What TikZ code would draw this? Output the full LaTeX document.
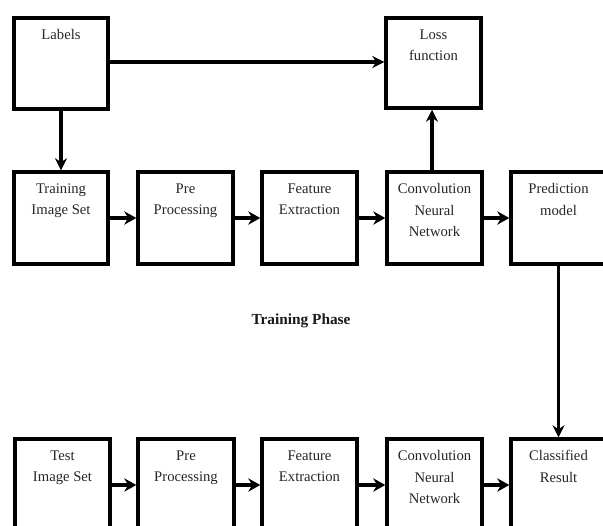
\documentclass[tikz,border=0pt]{standalone}
\usepackage{fontspec}
\setmainfont{Liberation Serif}
\usetikzlibrary{arrows.meta}
\tikzset{
  box/.style={draw=black, line width=2.6pt, minimum width=#1*0.75pt, minimum height=92*0.75pt, inner sep=0pt},
  box/.default=95,
  lbl/.style={anchor=north, align=center, inner sep=0pt, text=black!85, font=\fontsize{11}{16}\selectfont},
  conn/.style={line width=2.5pt, -{Stealth[length=9pt,width=9pt]}},
  rowconn/.style={line width=3.4pt, -{Stealth[length=9pt,width=10pt]}},
}
\begin{document}
\begin{tikzpicture}[x=0.75pt,y=-0.75pt]
\useasboundingbox (0,0) rectangle (603,525);
\fill[white] (0,0) rectangle (603,525);
\begin{scope}
\clip (0,0) rectangle (603,525);
% top row
\node[box=94, minimum height=91*0.75pt] (labels) at (61,63.5) {};
\node[box=95, minimum height=90*0.75pt] (loss) at (433.5,63) {};
% row 1
\node[box=94] (train) at (61,218) {};
\node[box=95] (pre1) at (185.5,218) {};
\node[box=95] (feat1) at (309.5,218) {};
\node[box=95] (cnn1) at (434.5,218) {};
\node[box=95] (pred) at (558.5,218) {};
% row 2
\node[box=95] (test) at (62.5,485) {};
\node[box=96] (pre2) at (186,485) {};
\node[box=95] (feat2) at (309.5,485) {};
\node[box=95] (cnn2) at (434.5,485) {};
\node[box=95] (cls) at (558.5,485) {};
% texts
\node[lbl] (tl) at ([yshift=-13*0.75pt]labels.north) {Labels};
\node[lbl] (tloss) at ([yshift=-13*0.75pt]loss.north) {Loss\\function};
\node[lbl] (ttrain) at ([yshift=-13*0.75pt]train.north) {Training\\Image Set};
\node[lbl] (tpre1) at ([yshift=-13*0.75pt]pre1.north) {Pre\\Processing};
\node[lbl] (tfeat1) at ([yshift=-13*0.75pt]feat1.north) {Feature\\Extraction};
\node[lbl] (tcnn1) at ([yshift=-13*0.75pt]cnn1.north) {Convolution\\Neural\\Network};
\node[lbl] (tpred) at ([yshift=-13*0.75pt]pred.north) {Prediction\\model};
\node[lbl] (ttest) at ([yshift=-13*0.75pt]test.north) {Test\\Image Set};
\node[lbl] (tpre2) at ([yshift=-13*0.75pt]pre2.north) {Pre\\Processing};
\node[lbl] (tfeat2) at ([yshift=-13*0.75pt]feat2.north) {Feature\\Extraction};
\node[lbl] (tcnn2) at ([yshift=-13*0.75pt]cnn2.north) {Convolution\\Neural\\Network};
\node[lbl] (tcls) at ([yshift=-13*0.75pt]cls.north) {Classified\\Result};
\node[font=\fontsize{11.5}{14}\selectfont\bfseries, text=black!90, inner sep=0pt] (phase) at (301,321) {Training Phase};
% connectors
\draw[conn] (labels.east |- 0,62) -- (loss.west |- 0,62);
\draw[conn] (labels.south) -- (train.north);
\draw[conn] (cnn1.north -| 432,0) -- (loss.south -| 432,0);
\draw[conn] (pred.south) -- (cls.north);
\draw[rowconn] (train) -- (pre1);
\draw[rowconn] (pre1) -- (feat1);
\draw[rowconn] (feat1) -- (cnn1);
\draw[rowconn] (cnn1) -- (pred);
\draw[rowconn] (test) -- (pre2);
\draw[rowconn] (pre2) -- (feat2);
\draw[rowconn] (feat2) -- (cnn2);
\draw[rowconn] (cnn2) -- (cls);
\end{scope}
\end{tikzpicture}
\end{document}
